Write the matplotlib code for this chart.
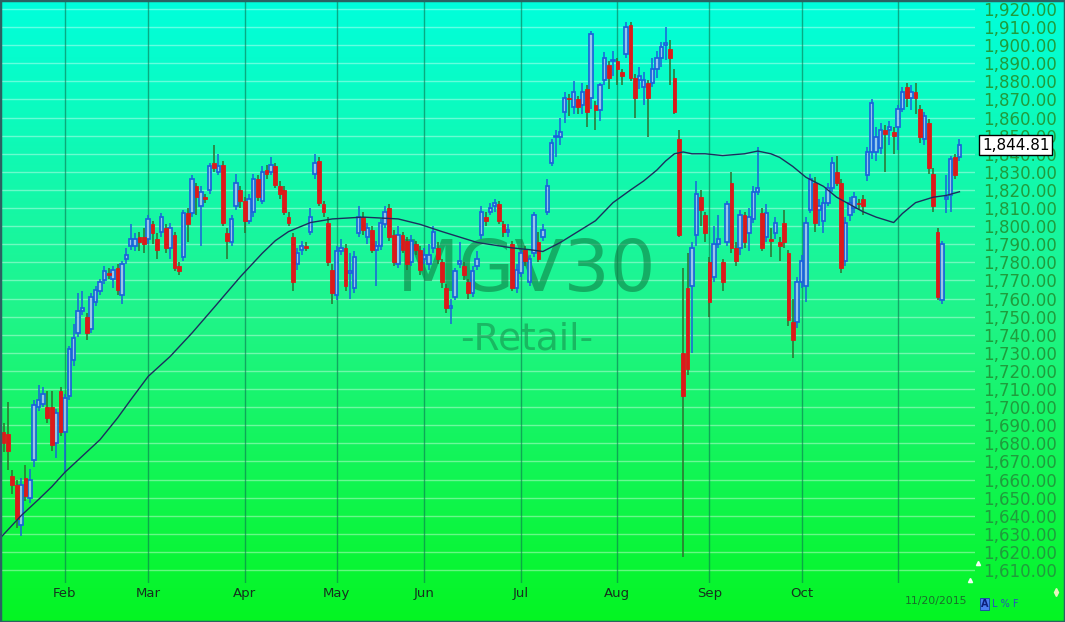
import numpy as np
import matplotlib
matplotlib.use('Agg')
import matplotlib.pyplot as plt
from matplotlib.patches import Rectangle

# ---------------- data ----------------
opens = [1686,1685,1662,1657,1635,1661,1650,1671,1700,1702,
         1700,1700,1680,1709,1686,1706,1726,1741,1753,1750,
         1743,1758,1764,1770,1774,1771,1777,1762,1782,1789,
         1789,1794,1794,1793,1801,1793,1797,1799,1788,1795,
         1778,1783,1807,1807,1822,1811,1816,1820,1835,1830,
         1834,1796,1791,1811,1820,1814,1803,1808,1826,1814,
         1831,1830,1833,1822,1820,1805,1794,1779,1787,1789,
         1797,1829,1836,1812,1802,1776,1762,1786,1788,1774,
         1766,1796,1805,1794,1798,1787,1789,1801,1810,1795,
         1779,1795,1792,1780,1790,1787,1782,1779,1788,1788,
         1780,1766,1755,1761,1779,1778,1769,1763,1778,1795,
         1805,1808,1811,1812,1801,1797,1790,1766,1774,1787,
         1769,1785,1791,1794,1808,1835,1849,1849,1863,1871,
         1866,1870,1867,1876,1871,1867,1864,1881,1889,1891,
         1891,1885,1895,1911,1882,1881,1877,1879,1879,1887,
         1893,1900,1898,1882,1848,1730,1766,1767,1795,1816,
         1806,1780,1772,1790,1780,1791,1824,1788,1788,1806,
         1796,1804,1819,1807,1794,1793,1796,1791,1802,1785,
         1747,1747,1769,1767,1809,1824,1809,1803,1813,1821,
         1830,1824,1781,1806,1810,1813,1815,1828,1841,1841,
         1843,1853,1853,1852,1855,1865,1877,1871,1874,1865,
         1848,1857,1829,1797,1759,1815,1817,1838,1838]
highs = [1691,1703,1665,1660,1661,1668,1666,1704,1712,1711,
         1709,1709,1699,1711,1707,1734,1746,1763,1764,1752,
         1763,1767,1771,1778,1777,1778,1779,1781,1788,1801,
         1796,1797,1799,1806,1803,1796,1807,1801,1802,1797,
         1780,1809,1810,1828,1824,1822,1818,1835,1845,1840,
         1836,1799,1806,1829,1822,1816,1818,1829,1828,1833,
         1834,1838,1835,1825,1822,1808,1796,1788,1792,1791,
         1810,1840,1838,1814,1805,1779,1789,1793,1790,1785,
         1786,1811,1808,1802,1800,1792,1804,1811,1812,1798,
         1800,1797,1794,1795,1792,1789,1788,1790,1800,1791,
         1782,1768,1760,1777,1791,1780,1771,1778,1786,1811,
         1808,1813,1815,1814,1803,1801,1792,1779,1787,1789,
         1784,1808,1797,1801,1826,1848,1853,1860,1874,1873,
         1880,1872,1879,1878,1908,1869,1879,1896,1891,1897,
         1893,1887,1913,1913,1884,1888,1885,1881,1893,1897,
         1902,1910,1903,1887,1853,1777,1785,1791,1825,1820,
         1808,1783,1800,1806,1782,1814,1830,1791,1809,1808,
         1810,1822,1844,1810,1812,1799,1805,1794,1809,1787,
         1760,1772,1784,1805,1829,1827,1815,1816,1824,1838,
         1839,1826,1805,1816,1819,1815,1817,1844,1870,1855,
         1857,1856,1858,1855,1867,1877,1879,1878,1879,1867,
         1863,1859,1832,1799,1792,1828,1839,1840,1848]
lows = [1675,1665,1652,1633,1629,1648,1647,1667,1698,1700,
        1691,1676,1672,1684,1664,1704,1723,1739,1751,1737,
        1741,1756,1762,1768,1771,1766,1762,1757,1779,1787,
        1786,1786,1785,1790,1790,1782,1794,1785,1782,1775,
        1773,1781,1791,1805,1806,1789,1813,1818,1830,1828,
        1800,1782,1789,1809,1810,1796,1801,1805,1814,1812,
        1826,1828,1821,1815,1806,1800,1764,1776,1784,1786,
        1795,1826,1811,1805,1778,1757,1759,1784,1764,1760,
        1763,1794,1795,1790,1785,1767,1787,1799,1792,1778,
        1777,1785,1776,1778,1784,1773,1779,1776,1785,1779,
        1766,1752,1746,1759,1777,1770,1760,1761,1776,1793,
        1800,1806,1808,1801,1794,1794,1764,1763,1772,1778,
        1767,1783,1780,1792,1806,1833,1838,1845,1857,1861,
        1862,1862,1862,1855,1865,1853,1858,1878,1876,1883,
        1878,1878,1893,1880,1860,1876,1867,1849,1877,1882,
        1888,1892,1878,1862,1794,1617,1718,1730,1789,1800,
        1791,1750,1769,1788,1764,1789,1785,1778,1784,1788,
        1786,1802,1817,1786,1791,1783,1793,1781,1788,1745,
        1727,1744,1766,1758,1807,1797,1800,1796,1811,1819,
        1822,1774,1778,1803,1807,1809,1806,1825,1837,1836,
        1840,1830,1845,1840,1842,1863,1866,1864,1862,1846,
        1845,1829,1808,1759,1757,1807,1808,1826,1836]
closes = [1680,1676,1657,1638,1657,1651,1660,1701,1704,1707,
          1694,1679,1697,1686,1705,1732,1738,1753,1755,1741,
          1761,1765,1769,1775,1773,1776,1765,1779,1784,1793,
          1793,1791,1790,1804,1796,1787,1805,1788,1799,1777,
          1775,1807,1801,1826,1816,1819,1815,1833,1832,1833,
          1802,1792,1804,1824,1814,1803,1815,1826,1816,1830,
          1829,1834,1823,1818,1808,1802,1769,1785,1789,1788,
          1805,1835,1813,1808,1780,1763,1786,1788,1767,1775,
          1783,1805,1798,1799,1787,1789,1802,1808,1794,1780,
          1795,1787,1779,1792,1787,1776,1784,1784,1797,1782,
          1769,1755,1756,1775,1781,1773,1763,1775,1782,1808,
          1803,1810,1813,1803,1797,1798,1766,1776,1785,1781,
          1782,1806,1782,1798,1822,1846,1850,1852,1871,1870,
          1874,1866,1874,1863,1906,1864,1878,1893,1882,1892,
          1887,1883,1910,1882,1871,1883,1881,1871,1887,1893,
          1899,1901,1893,1863,1795,1706,1721,1788,1818,1809,
          1796,1758,1790,1793,1769,1812,1788,1781,1806,1791,
          1805,1819,1821,1788,1807,1792,1802,1789,1791,1748,
          1737,1769,1781,1802,1826,1802,1811,1813,1821,1835,
          1824,1777,1802,1813,1816,1812,1811,1841,1868,1849,
          1853,1851,1855,1850,1865,1874,1871,1874,1871,1849,
          1861,1832,1811,1761,1790,1816,1837,1828,1844.81]

# moving-average line (candle index, value)
ma_idx = [-1, 4, 8, 11, 14, 18, 22, 26, 29, 33, 38, 43, 48, 54, 59, 62, 65,
          68, 70, 75, 82, 90, 95, 100, 108, 116, 120, 123, 127, 131, 135, 139,
          143, 146, 149, 151, 153, 155, 157, 160, 164, 169, 172, 175, 177, 180,
          183, 187, 190, 193, 196, 199, 203, 205, 208, 212, 215, 218]
ma_val = [1627, 1640, 1649, 1656, 1664, 1673, 1682, 1694, 1704, 1717, 1728,
          1741, 1755, 1772, 1785, 1792, 1797, 1800, 1802, 1804, 1805, 1804,
          1801, 1797, 1791, 1788, 1787, 1786, 1791, 1797, 1803, 1813, 1820,
          1825, 1831, 1836, 1840, 1841, 1840, 1840, 1839, 1840, 1841.5, 1840,
          1838, 1833, 1827, 1822, 1816, 1812, 1808, 1805, 1802, 1807, 1813,
          1816, 1817, 1819]

month_labels = ['Feb', 'Mar', 'Apr', 'May', 'Jun', 'Jul', 'Aug', 'Sep', 'Oct']
month_idx = [14, 33, 55, 76, 96, 118, 140, 161, 182]
nov_idx = 204
y_ticks = list(range(1610, 1921, 10))
last_price = 1844.81
date_label = '11/20/2015'
watermark = 'MGV30'
subtitle = '-Retail-'

# ---------------- figure ----------------
W, H = 1065, 622
fig = plt.figure(figsize=(W / 100, H / 100), dpi=100)

bg = fig.add_axes([0, 0, 1, 1])
bg.set_axis_off()
top_c = np.array([0, 255, 220]) / 255.0
mid_c = np.array([32, 244, 138]) / 255.0
bot_c = np.array([4, 246, 34]) / 255.0
t = np.linspace(0, 1, 512)[:, None]
grad = np.where(t < 0.5, top_c * (1 - 2 * t) + mid_c * (2 * t),
                mid_c * (2 - 2 * t) + bot_c * (2 * t - 1))
bg.imshow(grad.reshape(512, 1, 3), aspect='auto', extent=[0, 1, 0, 1])
bg.set_xlim(0, 1)
bg.set_ylim(0, 1)

# pixel mapping of main plot
L_px, R_px, T_px, B_px = 2, 975, 2, 583
x0_px, dx_px = 3.5, 4.385
y_top_val, y_px_top, px_per_unit = 1920, 9, 1.8097
ax = fig.add_axes([L_px / W, 1 - B_px / H, (R_px - L_px) / W, (B_px - T_px) / H])
ax.patch.set_alpha(0)
ax.set_xlim((L_px - x0_px) / dx_px, (R_px - x0_px) / dx_px)
ax.set_ylim(y_top_val - (B_px - y_px_top) / px_per_unit,
            y_top_val - (T_px - y_px_top) / px_per_unit)
for s in ax.spines.values():
    s.set_visible(False)

# grid
for v in y_ticks:
    ax.axhline(v, color='white', lw=1.0, alpha=0.38, zorder=1)
for m in month_idx + [nov_idx]:
    ax.axvline(m, color='#0b7550', lw=1.0, alpha=0.6, zorder=1)

# watermark (behind candles)
ax.text(527 / W, 1 - 291 / H, watermark, transform=fig.transFigure, ha='center',
        va='baseline', fontsize=52, color='#0f7f45', alpha=0.6, zorder=1.5,
        clip_on=False)
ax.text(527 / W, 1 - 350 / H, subtitle, transform=fig.transFigure, ha='center',
        va='baseline', fontsize=27, color='#16884a', alpha=0.55, zorder=1.5,
        clip_on=False)

# candles
o = np.array(opens, float)
h = np.array(highs, float)
l = np.array(lows, float)
c = np.array(closes, float)
idx = np.arange(len(o))
up = c >= o
blue = '#1a62dc'
red = '#dc1a1a'
wick_red = '#2f6f2f'
ax.vlines(idx[up], l[up], h[up], color=blue, lw=1.1, zorder=3)
ax.vlines(idx[~up], l[~up], h[~up], color=wick_red, lw=1.1, zorder=3)
body_lo = np.minimum(o, c)
body_h = np.maximum(np.abs(c - o), 1.0)
ax.bar(idx[up], body_h[up], bottom=body_lo[up], width=0.78,
       facecolor=(1, 1, 1, 0.55), edgecolor=blue, linewidth=1.25, zorder=4)
ax.bar(idx[~up], body_h[~up], bottom=body_lo[~up], width=0.86,
       facecolor=red, edgecolor=red, linewidth=0.6, zorder=4)

# moving average
ax.plot(ma_idx, ma_val, color='#1b2f5e', lw=1.0, zorder=5)

# axes ticks
ax.yaxis.tick_right()
ax.set_yticks(y_ticks)
ax.set_yticklabels([f'{v:,.2f}' for v in y_ticks])
ax.tick_params(axis='y', length=0, pad=6, labelsize=12, labelcolor='#1f9c3c')
ax.set_xticks(month_idx)
ax.set_xticklabels(month_labels)
ax.tick_params(axis='x', length=0, pad=3, labelsize=9.5, labelcolor='#16301f')

# last price box (covers the neighbouring tick label, as in the original)
ax.annotate(f'{last_price:,.2f}', xy=(1, last_price),
            xycoords=('axes fraction', 'data'), xytext=(5, 0),
            textcoords='offset points', ha='left', va='center', fontsize=11,
            color='black', zorder=10, annotation_clip=False,
            bbox=dict(boxstyle='square,pad=0.18', fc='white', ec='black', lw=1))

# bottom texts
fig.text(905 / W, 1 - 601 / H, date_label, fontsize=7.8, color='#1a6e2a',
         ha='left', va='center')
fig.text(981 / W, 1 - 604 / H, 'A', fontsize=7, color='#0c1f7a', ha='left',
         va='center', fontweight='bold',
         bbox=dict(boxstyle='square,pad=0.1', fc='#4a7df0', ec='#1a3fa8', lw=0.6))
fig.text(992 / W, 1 - 604 / H, 'L % F', fontsize=7, color='#2a4ec0',
         ha='left', va='center')

# small white markers on the right edge
bg.plot([978 / W, 970 / W], [1 - 563 / H, 1 - 580 / H], linestyle='none',
        marker='^', markersize=3, color='white', alpha=0.9)
bg.plot([1056 / W], [1 - 592 / H], marker='d', markersize=4, color='#e8f5c0',
        linestyle='none')

# frame
fig.patches.append(Rectangle((0, 0), 1, 1, transform=fig.transFigure, fill=False,
                             edgecolor='#2b6262', lw=2.5))

fig.savefig('out.png', dpi=100)
